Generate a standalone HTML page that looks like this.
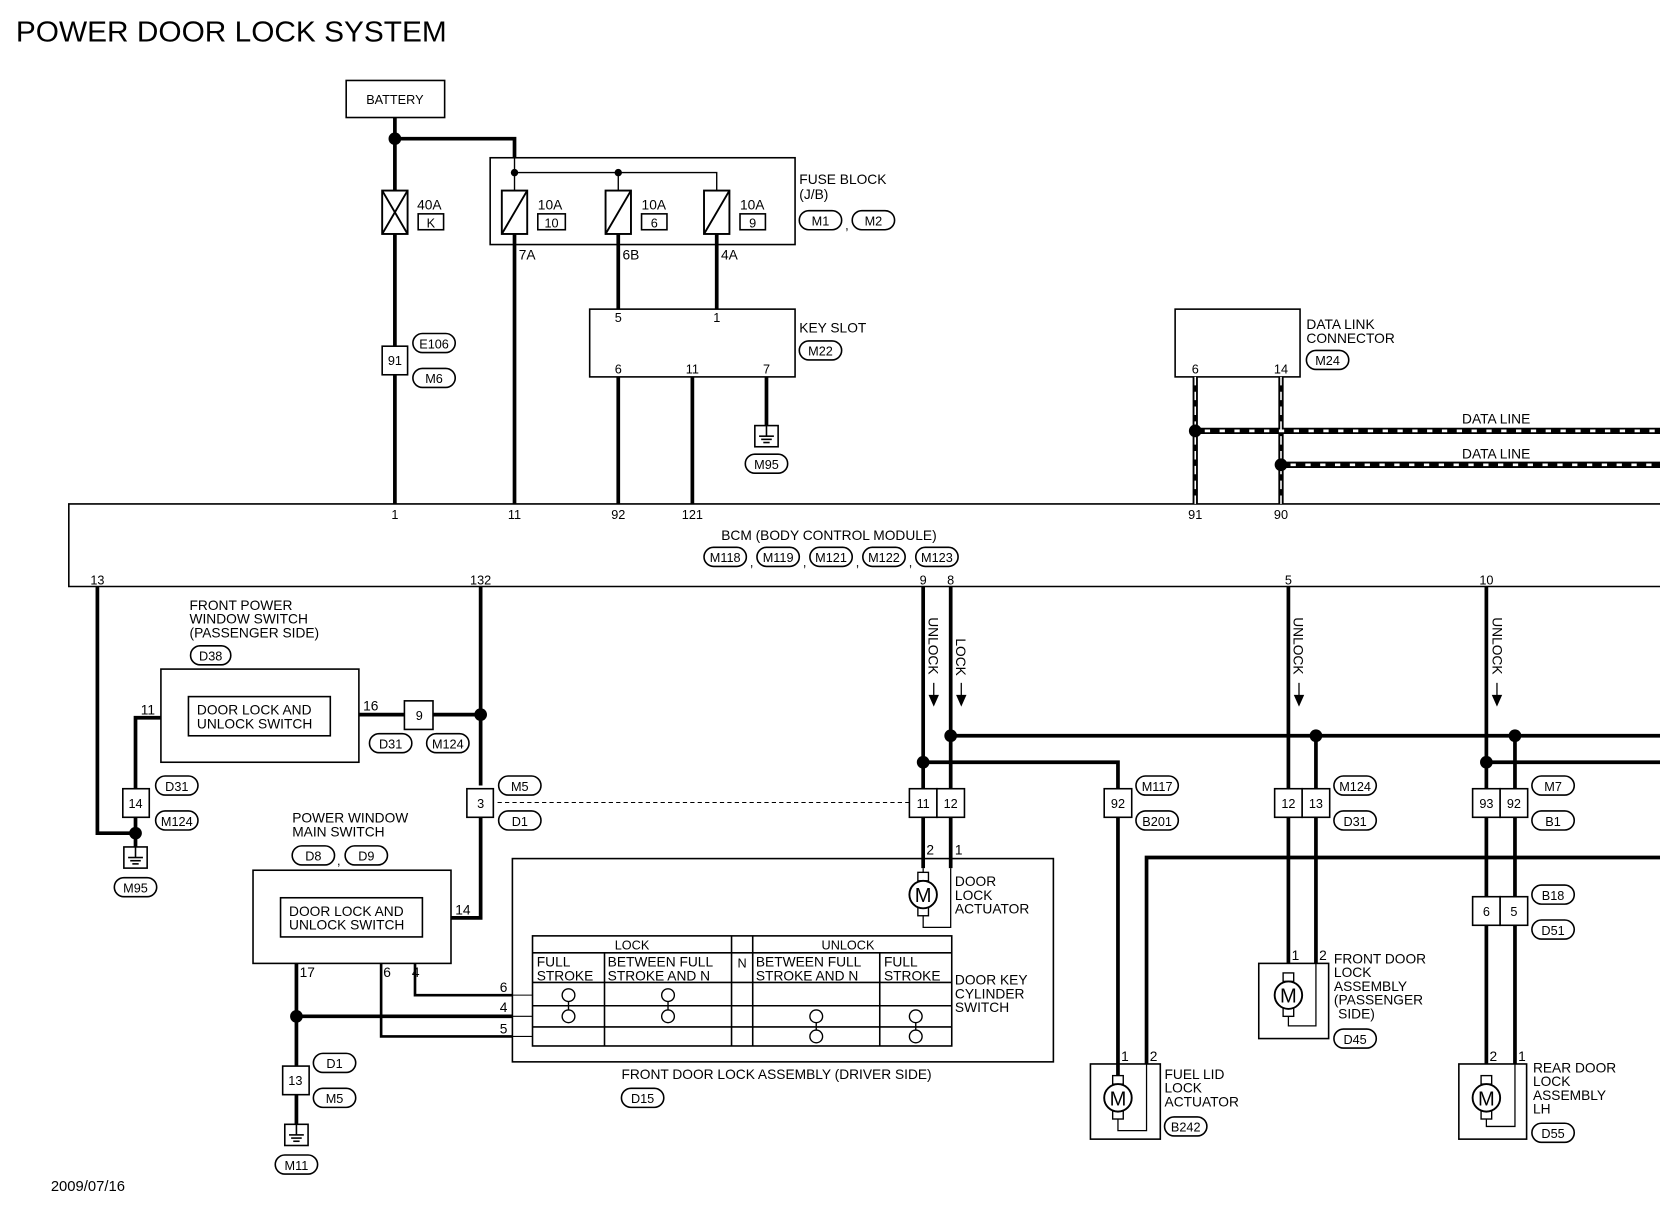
<!DOCTYPE html>
<html><head><meta charset="utf-8"><style>
html,body{margin:0;padding:0;background:#fff;}
svg{display:block}
text{font-family:"Liberation Sans",sans-serif;fill:#000;}
</style></head><body>
<svg width="1660" height="1216" viewBox="0 0 1568 1148.6" xmlns="http://www.w3.org/2000/svg">
<defs>
<g id="gnd"><rect x="-11" y="0" width="22" height="20" fill="#fff" stroke="#000" stroke-width="1.5"/><line x1="0" y1="0" x2="0" y2="10" stroke="#000" stroke-width="1.5"/><line x1="-7" y1="10" x2="7" y2="10" stroke="#000" stroke-width="1.5"/><line x1="-5" y1="13" x2="5" y2="13" stroke="#000" stroke-width="1.5"/><line x1="-3" y1="16" x2="3" y2="16" stroke="#000" stroke-width="1.5"/></g>
<g id="mot"><rect x="-5" y="-21" width="10" height="8" fill="#fff" stroke="#000" stroke-width="1.3"/><rect x="-5" y="12" width="10" height="8" fill="#fff" stroke="#000" stroke-width="1.3"/><circle r="13" fill="#fff" stroke="#000" stroke-width="1.8"/><text x="0" y="7" font-size="19" text-anchor="middle">M</text></g>
</defs>
<g font-size="13">
<text x="15" y="39" font-size="27" textLength="407" lengthAdjust="spacingAndGlyphs">POWER DOOR LOCK SYSTEM</text>
<text x="48" y="1125" font-size="14">2009/07/16</text>

<g fill="none" stroke="#000" stroke-width="1.5">
<rect x="327" y="76" width="93" height="35"/>
<rect x="463" y="149" width="288" height="82"/>
<rect x="557" y="292" width="194" height="64"/>
<rect x="1110" y="292" width="118" height="64"/>
<polyline points="1568,476 65,476 65,554 1568,554"/>
<rect x="152" y="632" width="187" height="88"/>
<rect x="178" y="658" width="134" height="37"/>
<rect x="239" y="822" width="187" height="88"/>
<rect x="265" y="848" width="134" height="37"/>
<rect x="484" y="811" width="511" height="192"/>
<rect x="503" y="884" width="396" height="104"/>
<line x1="503" y1="900" x2="899" y2="900"/>
<line x1="503" y1="928" x2="899" y2="928"/>
<line x1="503" y1="950" x2="899" y2="950"/>
<line x1="503" y1="970" x2="899" y2="970"/>
<line x1="571" y1="900" x2="571" y2="988"/>
<line x1="691" y1="884" x2="691" y2="988"/>
<line x1="711" y1="884" x2="711" y2="988"/>
<line x1="831" y1="900" x2="831" y2="988"/>
<polyline points="872,820 872,876 898,876 898,820" stroke-width="1.2"/>
<rect x="1030" y="1005" width="66" height="71"/>
<rect x="1189" y="910" width="66" height="71"/>
<rect x="1378" y="1005" width="64" height="71"/>
<polyline points="1056,1050 1056,1068 1083,1068 1083,1005" stroke-width="1.2"/>
<polyline points="1217,955 1217,969 1243,969 1243,910" stroke-width="1.2"/>
<polyline points="1404,1050 1404,1064 1431,1064 1431,1005" stroke-width="1.2"/>
<polyline points="486,163 677,163 677,180" stroke-width="1.3"/>
<line x1="486" y1="149" x2="486" y2="180" stroke-width="1.3"/>
<line x1="584" y1="163" x2="584" y2="180" stroke-width="1.3"/>
<line x1="470" y1="758" x2="860" y2="758" stroke-width="1" stroke-dasharray="4,3"/>
<line x1="484" y1="940" x2="503" y2="940" stroke-width="1"/>
<line x1="484" y1="960" x2="503" y2="960" stroke-width="1"/>
<line x1="484" y1="979" x2="503" y2="979" stroke-width="1"/>
</g>

<g fill="none" stroke="#000" stroke-width="3.5">
<line x1="373" y1="111" x2="373" y2="180"/>
<polyline points="373,131 486,131 486,149"/>
<line x1="373" y1="221" x2="373" y2="476"/>
<line x1="486" y1="221" x2="486" y2="476"/>
<line x1="584" y1="221" x2="584" y2="292"/>
<line x1="677" y1="221" x2="677" y2="292"/>
<line x1="584" y1="356" x2="584" y2="476"/>
<line x1="654" y1="356" x2="654" y2="476"/>
<line x1="724" y1="356" x2="724" y2="402"/>
<polyline points="92,554 92,787 128,787"/>
<polyline points="152,678 128,678 128,800"/>
<polyline points="339,675 454,675"/>
<line x1="454" y1="554" x2="454" y2="742"/>
<polyline points="454,770 454,867 426,867"/>
<line x1="280" y1="910" x2="280" y2="1062"/>
<polyline points="280,960 484,960"/>
<polyline points="392,910 392,940 484,940" stroke-width="2.5"/>
<polyline points="360,910 360,979 484,979" stroke-width="2.5"/>
<line x1="872" y1="554" x2="872" y2="820"/>
<line x1="898" y1="554" x2="898" y2="820"/>
<line x1="898" y1="695" x2="1568" y2="695"/>
<polyline points="872,720 1056,720 1056,1005"/>
<polyline points="1083,1005 1083,810 1568,810"/>
<line x1="1217" y1="554" x2="1217" y2="910"/>
<line x1="1243" y1="695" x2="1243" y2="910"/>
<line x1="1404" y1="554" x2="1404" y2="1005"/>
<line x1="1431" y1="695" x2="1431" y2="1005"/>
<line x1="1404" y1="720" x2="1568" y2="720"/>
<line x1="1056" y1="1005" x2="1056" y2="1030"/>
</g>
<g fill="none">
<line x1="1129" y1="356" x2="1129" y2="476" stroke="#000" stroke-width="5"/>
<line x1="1210" y1="356" x2="1210" y2="476" stroke="#000" stroke-width="5"/>
<line x1="1129" y1="407" x2="1568" y2="407" stroke="#000" stroke-width="6"/>
<line x1="1210" y1="439" x2="1568" y2="439" stroke="#000" stroke-width="6"/>
<line x1="1129" y1="356" x2="1129" y2="476" stroke="#fff" stroke-width="1.5" stroke-dasharray="8,6"/>
<line x1="1210" y1="356" x2="1210" y2="476" stroke="#fff" stroke-width="1.5" stroke-dasharray="8,6"/>
<line x1="1138" y1="407" x2="1568" y2="407" stroke="#fff" stroke-width="2.5" stroke-dasharray="5,9"/>
<line x1="1219" y1="439" x2="1568" y2="439" stroke="#fff" stroke-width="2.5" stroke-dasharray="5,9"/>
</g>
<g fill="#000">
<circle cx="373" cy="131" r="6"/><circle cx="486" cy="163" r="3.5"/><circle cx="584" cy="163" r="3.5"/>
<circle cx="1129" cy="407" r="6"/><circle cx="1210" cy="439" r="6"/>
<circle cx="454" cy="675" r="6"/><circle cx="128" cy="787" r="6"/><circle cx="280" cy="960" r="6"/>
<circle cx="898" cy="695" r="6"/><circle cx="872" cy="720" r="6"/><circle cx="1243" cy="695" r="6"/>
<circle cx="1431" cy="695" r="6"/><circle cx="1404" cy="720" r="6"/>
</g>

<g fill="#fff" stroke="#000" stroke-width="1.8">
<rect x="361" y="180" width="24" height="41"/>
<line x1="361" y1="180" x2="385" y2="221"/><line x1="385" y1="180" x2="361" y2="221"/>
<rect x="474" y="180" width="24" height="41"/><line x1="474" y1="221" x2="498" y2="180"/>
<rect x="572" y="180" width="24" height="41"/><line x1="572" y1="221" x2="596" y2="180"/>
<rect x="665" y="180" width="24" height="41"/><line x1="665" y1="221" x2="689" y2="180"/>
</g>
<g fill="#fff" stroke="#000" stroke-width="1.5">
<rect x="395" y="202" width="24" height="15"/><rect x="508" y="202" width="26" height="15"/><rect x="606" y="202" width="24" height="15"/><rect x="699" y="202" width="24" height="15"/>
<rect x="361" y="327" width="24" height="27"/>
<rect x="382" y="662" width="27" height="27"/>
<rect x="116" y="745" width="25" height="27"/>
<rect x="441" y="745" width="25" height="27"/>
<rect x="267" y="1007" width="25" height="27"/>
<rect x="859" y="745" width="26" height="27"/><rect x="885" y="745" width="26" height="27"/>
<rect x="1043" y="745" width="26" height="27"/>
<rect x="1204" y="745" width="26" height="27"/><rect x="1230" y="745" width="26" height="27"/>
<rect x="1391" y="745" width="26" height="27"/><rect x="1417" y="745" width="26" height="27"/>
<rect x="1391" y="847" width="26" height="27"/><rect x="1417" y="847" width="26" height="27"/>
</g>
<use href="#gnd" x="724" y="402"/>
<use href="#gnd" x="128" y="800"/>
<use href="#gnd" x="280" y="1062"/>
<use href="#mot" x="872" y="845"/>
<use href="#mot" x="1056" y="1037"/>
<use href="#mot" x="1217" y="940"/>
<use href="#mot" x="1404" y="1037"/>

<g fill="#fff" stroke="#000" stroke-width="1.3">
<line x1="537" y1="940" x2="537" y2="960"/><line x1="631" y1="940" x2="631" y2="960"/>
<line x1="771" y1="960" x2="771" y2="979"/><line x1="865" y1="960" x2="865" y2="979"/>
<circle cx="537" cy="940" r="6"/><circle cx="537" cy="960" r="6"/>
<circle cx="631" cy="940" r="6"/><circle cx="631" cy="960" r="6"/>
<circle cx="771" cy="960" r="6"/><circle cx="771" cy="979" r="6"/>
<circle cx="865" cy="960" r="6"/><circle cx="865" cy="979" r="6"/>
</g>

<g fill="#fff" stroke="#000" stroke-width="1.5">
<rect x="755" y="199" width="40" height="18" rx="9"/><rect x="805" y="199" width="40" height="18" rx="9"/>
<rect x="390" y="315" width="40" height="18" rx="9"/><rect x="390" y="348" width="40" height="18" rx="9"/>
<rect x="755" y="322" width="40" height="18" rx="9"/>
<rect x="704" y="429" width="40" height="18" rx="9"/>
<rect x="1234" y="331" width="40" height="18" rx="9"/>
<rect x="665" y="517" width="40" height="18" rx="9"/><rect x="715" y="517" width="40" height="18" rx="9"/><rect x="765" y="517" width="40" height="18" rx="9"/><rect x="815" y="517" width="40" height="18" rx="9"/><rect x="865" y="517" width="40" height="18" rx="9"/>
<rect x="180" y="610" width="38" height="18" rx="9"/>
<rect x="349" y="693" width="40" height="18" rx="9"/><rect x="403" y="693" width="40" height="18" rx="9"/>
<rect x="147" y="733" width="40" height="18" rx="9"/><rect x="147" y="766" width="40" height="18" rx="9"/>
<rect x="108" y="829" width="40" height="18" rx="9"/>
<rect x="471" y="733" width="40" height="18" rx="9"/><rect x="471" y="766" width="40" height="18" rx="9"/>
<rect x="276" y="799" width="40" height="18" rx="9"/><rect x="326" y="799" width="40" height="18" rx="9"/>
<rect x="296" y="995" width="40" height="18" rx="9"/><rect x="296" y="1028" width="40" height="18" rx="9"/>
<rect x="260" y="1091" width="40" height="18" rx="9"/>
<rect x="587" y="1028" width="40" height="18" rx="9"/>
<rect x="1073" y="733" width="40" height="18" rx="9"/><rect x="1073" y="766" width="40" height="18" rx="9"/>
<rect x="1260" y="733" width="40" height="18" rx="9"/><rect x="1260" y="766" width="40" height="18" rx="9"/>
<rect x="1447" y="733" width="40" height="18" rx="9"/><rect x="1447" y="766" width="40" height="18" rx="9"/>
<rect x="1447" y="836" width="40" height="18" rx="9"/><rect x="1447" y="869" width="40" height="18" rx="9"/>
<rect x="1100" y="1055" width="40" height="18" rx="9"/>
<rect x="1260" y="972" width="40" height="18" rx="9"/>
<rect x="1447" y="1061" width="40" height="18" rx="9"/>
</g>
<g text-anchor="middle" font-size="12">
<text x="775" y="213">M1</text><text x="825" y="213">M2</text>
<text x="410" y="329">E106</text><text x="410" y="362">M6</text>
<text x="775" y="336">M22</text><text x="724" y="443">M95</text><text x="1254" y="345">M24</text>
<text x="685" y="531">M118</text><text x="735" y="531">M119</text><text x="785" y="531">M121</text><text x="835" y="531">M122</text><text x="885" y="531">M123</text>
<text x="199" y="624">D38</text><text x="369" y="707">D31</text><text x="423" y="707">M124</text>
<text x="167" y="747">D31</text><text x="167" y="780">M124</text><text x="128" y="843">M95</text>
<text x="491" y="747">M5</text><text x="491" y="780">D1</text>
<text x="296" y="813">D8</text><text x="346" y="813">D9</text>
<text x="316" y="1009">D1</text><text x="316" y="1042">M5</text><text x="280" y="1105">M11</text>
<text x="607" y="1042">D15</text>
<text x="1093" y="747">M117</text><text x="1093" y="780">B201</text>
<text x="1280" y="747">M124</text><text x="1280" y="780">D31</text>
<text x="1467" y="747">M7</text><text x="1467" y="780">B1</text>
<text x="1467" y="850">B18</text><text x="1467" y="883">D51</text>
<text x="1120" y="1069">B242</text><text x="1280" y="986">D45</text><text x="1467" y="1075">D55</text>
<text x="407" y="215">K</text><text x="521" y="215">10</text><text x="618" y="215">6</text><text x="711" y="215">9</text>
<text x="373" y="345">91</text><text x="396" y="680">9</text><text x="128" y="763">14</text><text x="454" y="763">3</text>
<text x="279" y="1025">13</text>
<text x="872" y="763">11</text><text x="898" y="763">12</text><text x="1056" y="763">92</text>
<text x="1217" y="763">12</text><text x="1243" y="763">13</text>
<text x="1404" y="763">93</text><text x="1430" y="763">92</text>
<text x="1404" y="865">6</text><text x="1430" y="865">5</text>
<text x="373" y="98">BATTERY</text>
<text x="597" y="897">LOCK</text><text x="801" y="897">UNLOCK</text><text x="701" y="914">N</text>
<text x="373" y="490">1</text><text x="486" y="490">11</text><text x="584" y="490">92</text><text x="654" y="490">121</text>
<text x="1129" y="490">91</text><text x="1210" y="490">90</text>
<text x="92" y="552">13</text><text x="454" y="552">132</text><text x="872" y="552">9</text><text x="898" y="552">8</text><text x="1217" y="552">5</text><text x="1404" y="552">10</text>
<text x="584" y="304">5</text><text x="677" y="304">1</text><text x="584" y="353">6</text><text x="654" y="353">11</text><text x="724" y="353">7</text>
<text x="1129" y="353">6</text><text x="1210" y="353">14</text>
<text x="800" y="217">,</text><text x="320" y="817">,</text>
<text x="710" y="535">,</text><text x="760" y="535">,</text><text x="810" y="535">,</text><text x="860" y="535">,</text>
</g>
<text x="394" y="198">40A</text><text x="508" y="198">10A</text><text x="606" y="198">10A</text><text x="699" y="198">10A</text>
<text x="490" y="245">7A</text><text x="588" y="245">6B</text><text x="681" y="245">4A</text>
<text x="755" y="174">FUSE BLOCK</text><text x="755" y="188">(J/B)</text>
<text x="755" y="314">KEY SLOT</text>
<text x="1234" y="311">DATA LINK</text><text x="1234" y="324">CONNECTOR</text>
<text x="1381" y="400">DATA LINE</text><text x="1381" y="433">DATA LINE</text>
<text x="783" y="510" text-anchor="middle">BCM (BODY CONTROL MODULE)</text>
<text x="179" y="576">FRONT POWER</text><text x="179" y="589">WINDOW SWITCH</text><text x="179" y="602">(PASSENGER SIDE)</text>
<text x="186" y="675">DOOR LOCK AND</text><text x="186" y="688">UNLOCK SWITCH</text>
<text x="273" y="865">DOOR LOCK AND</text><text x="273" y="878">UNLOCK SWITCH</text>
<text x="276" y="777">POWER WINDOW</text><text x="276" y="790">MAIN SWITCH</text>
<text x="133" y="675">11</text><text x="343" y="671">16</text><text x="430" y="864">14</text>
<text x="283" y="923">17</text><text x="362" y="923">6</text><text x="389" y="923">4</text>
<text x="472" y="937">6</text><text x="472" y="956">4</text><text x="472" y="976">5</text>
<text x="875" y="807">2</text><text x="902" y="807">1</text>
<text x="902" y="837">DOOR</text><text x="902" y="850">LOCK</text><text x="902" y="863">ACTUATOR</text>
<text x="507" y="913">FULL</text><text x="507" y="926">STROKE</text>
<text x="574" y="913">BETWEEN FULL</text><text x="574" y="926">STROKE AND N</text>
<text x="714" y="913">BETWEEN FULL</text><text x="714" y="926">STROKE AND N</text>
<text x="835" y="913">FULL</text><text x="835" y="926">STROKE</text>
<text x="902" y="930">DOOR KEY</text><text x="902" y="943">CYLINDER</text><text x="902" y="956">SWITCH</text>
<text x="587" y="1019">FRONT DOOR LOCK ASSEMBLY (DRIVER SIDE)</text>
<text x="1059" y="1002">1</text><text x="1086" y="1002">2</text>
<text x="1100" y="1019">FUEL LID</text><text x="1100" y="1032">LOCK</text><text x="1100" y="1045">ACTUATOR</text>
<text x="1220" y="907">1</text><text x="1246" y="907">2</text>
<text x="1260" y="910">FRONT DOOR</text><text x="1260" y="923">LOCK</text><text x="1260" y="936">ASSEMBLY</text><text x="1260" y="949">(PASSENGER</text><text x="1264" y="962">SIDE)</text>
<text x="1407" y="1002">2</text><text x="1434" y="1002">1</text>
<text x="1448" y="1013">REAR DOOR</text><text x="1448" y="1026">LOCK</text><text x="1448" y="1039">ASSEMBLY</text><text x="1448" y="1052">LH</text>
<text transform="translate(877,583) rotate(90)">UNLOCK</text>
<text transform="translate(903,603) rotate(90)">LOCK</text>
<text transform="translate(1222,583) rotate(90)">UNLOCK</text>
<text transform="translate(1410,583) rotate(90)">UNLOCK</text>
<g fill="#000" stroke="#000" stroke-width="1.2">
<line x1="882" y1="645" x2="882" y2="660"/><polygon points="878,657 886,657 882,666"/>
<line x1="908" y1="645" x2="908" y2="660"/><polygon points="904,657 912,657 908,666"/>
<line x1="1227" y1="645" x2="1227" y2="660"/><polygon points="1223,657 1231,657 1227,666"/>
<line x1="1414" y1="645" x2="1414" y2="660"/><polygon points="1410,657 1418,657 1414,666"/>
</g>
</g>
</svg>
</body></html>
